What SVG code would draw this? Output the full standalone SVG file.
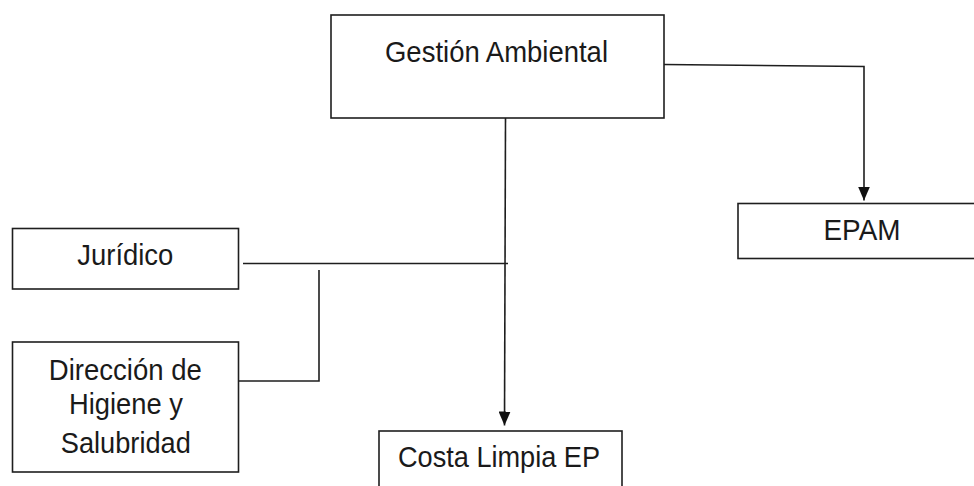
<svg xmlns="http://www.w3.org/2000/svg" width="974" height="486" viewBox="0 0 974 486">
<style>
.box{fill:#ffffff;stroke:#1e1e1e;stroke-width:1.6}
.ln{fill:none;stroke:#1e1e1e;stroke-width:1.6}
.t{font-family:"Liberation Sans",Arial,sans-serif;font-size:30px;fill:#1a1a1a;text-anchor:middle}
</style>
<defs>
<marker id="arr" markerUnits="userSpaceOnUse" markerWidth="14" markerHeight="12" refX="14" refY="6" orient="auto">
<path d="M0,0 L14,6 L0,12 z" fill="#111"/>
</marker>
</defs>
<rect width="974" height="486" fill="#ffffff"/>
<g id="connectors">
<polyline class="ln" points="664,64.5 864,66.5 864,200.5" marker-end="url(#arr)"/>
<line class="ln" x1="505.5" y1="118" x2="504.5" y2="425.5" marker-end="url(#arr)"/>
<line class="ln" x1="243" y1="263.5" x2="508" y2="263.5"/>
<polyline class="ln" points="319,270 319,381 239,381"/>
</g>
<g id="gestion">
<rect class="box" x="331" y="15" width="333" height="103"/>
<text class="t" x="496.5" y="62" textLength="223" lengthAdjust="spacingAndGlyphs">Gestión Ambiental</text>
</g>
<g id="epam">
<rect class="box" x="738" y="203.5" width="250" height="55"/>
<text class="t" x="862" y="240" textLength="77" lengthAdjust="spacingAndGlyphs">EPAM</text>
</g>
<g id="juridico">
<rect class="box" x="12.5" y="228.5" width="226" height="60.5"/>
<text class="t" x="125.3" y="265" textLength="96" lengthAdjust="spacingAndGlyphs">Jurídico</text>
</g>
<g id="direccion">
<rect class="box" x="12.5" y="342" width="226" height="130"/>
<text class="t" x="125.3" y="380" textLength="153" lengthAdjust="spacingAndGlyphs">Dirección de</text>
<text class="t" x="126" y="414" textLength="114" lengthAdjust="spacingAndGlyphs">Higiene y</text>
<text class="t" x="125.8" y="453" textLength="130" lengthAdjust="spacingAndGlyphs">Salubridad</text>
</g>
<g id="costa">
<rect class="box" x="379" y="431" width="243" height="70"/>
<text class="t" x="499" y="467" textLength="202" lengthAdjust="spacingAndGlyphs">Costa Limpia EP</text>
</g>
</svg>
